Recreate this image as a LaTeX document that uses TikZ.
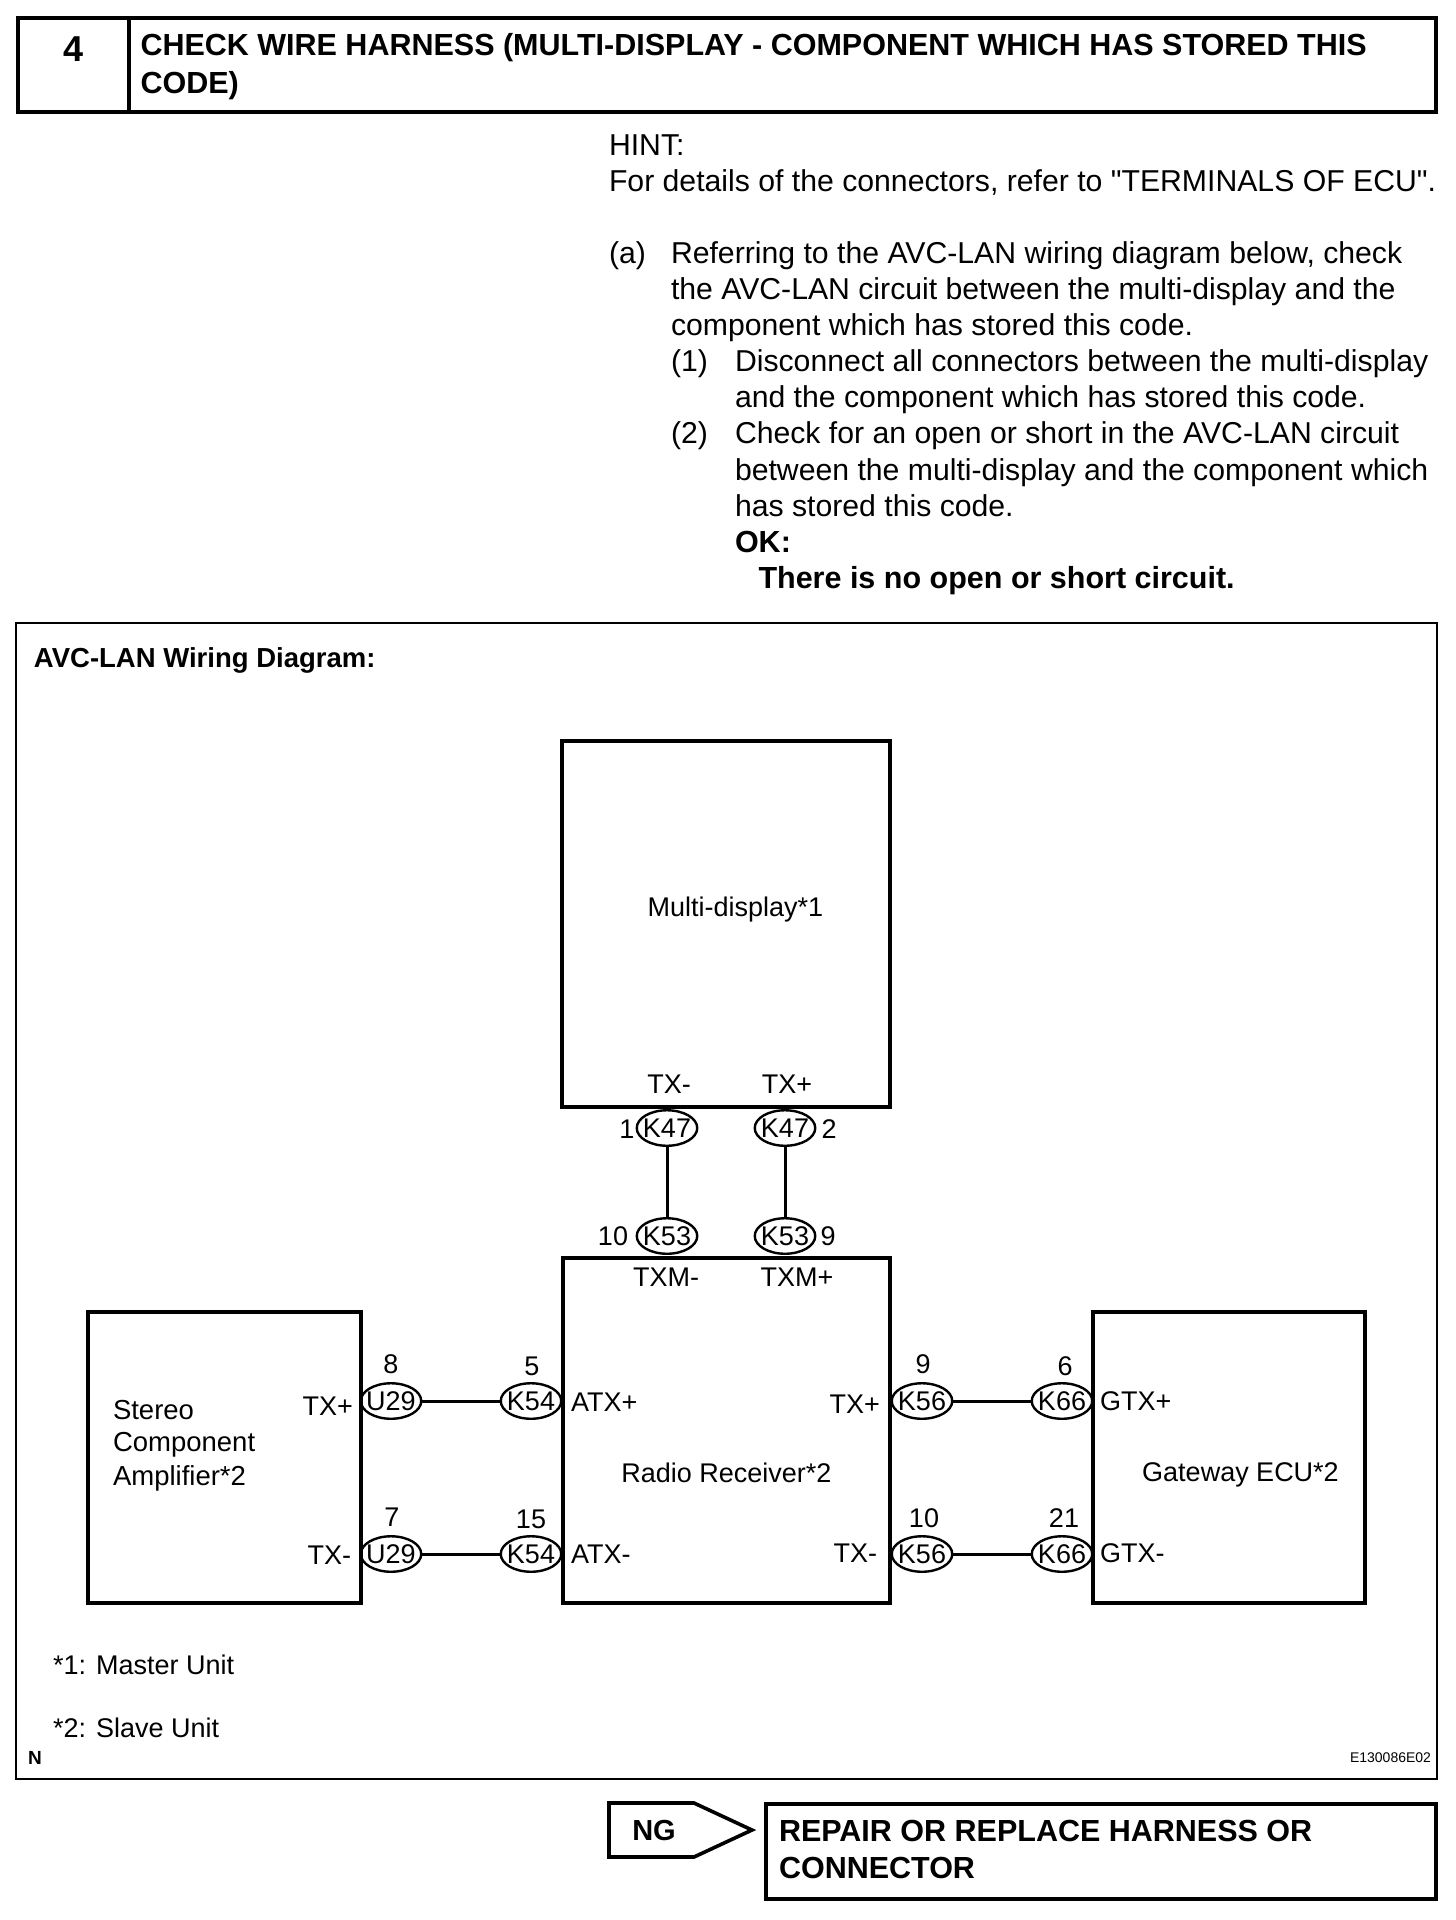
\documentclass[tikz,border=0pt]{standalone}
\usepackage{fontspec}
\setmainfont[Ligatures=TeXOff]{Liberation Sans}
\usetikzlibrary{shapes.geometric}
\newcommand{\cnx}[1]{\makebox[0pt]{#1}}
\tikzset{
  x=1pt,y=-1pt,
  bodytext/.style={anchor=base west,inner sep=0pt,outer sep=0pt,font=\fontsize{30.2}{34}\selectfont},
  boldtext/.style={bodytext,font=\fontsize{30.5}{34}\selectfont\bfseries},
  headtext/.style={bodytext,font=\fontsize{30.5}{36}\selectfont\bfseries},
  lab/.style={anchor=center,inner sep=0pt,outer sep=0pt,font=\fontsize{27}{32}\selectfont},
  labl/.style={lab,anchor=west},
  labr/.style={lab,anchor=east},
  conn/.style={ellipse,draw=black,line width=2.4pt,minimum width=60.5pt,minimum height=35.5pt,inner sep=0pt,outer sep=0pt,font=\fontsize{27}{32}\selectfont},
  unitbox/.style={rectangle,draw=black,line width=3.8pt,anchor=north west,inner sep=0pt,outer sep=0pt},
  wire/.style={draw=black,line width=3pt},
  framebox/.style={rectangle,draw=black,line width=2.6pt,anchor=north west,inner sep=0pt,outer sep=0pt},
  headbox/.style={rectangle,draw=black,line width=4.2pt,anchor=north west,inner sep=0pt,outer sep=0pt}
}
\begin{document}
\begin{tikzpicture}
\useasboundingbox (0,0) rectangle (1456,1920);
\fill[white] (0,0) rectangle (1456,1920);
% header
\node[headbox,minimum width=1418pt,minimum height=94pt] (hdr) at (18,18) {};
\coordinate (divt) at (129,18); \coordinate (divb) at (129,112);
\draw[line width=3.2pt] (divt) -- (divb);
\node[headtext,anchor=center,font=\fontsize{36}{40}\selectfont\bfseries] (num) at (74,49) {4};
\node[headtext] (h1) at (140.5,55) {CHECK WIRE HARNESS (MULTI-DISPLAY - COMPONENT WHICH HAS STORED THIS};
\node[headtext] (h2) at (140.5,93) {CODE)};
% instructions
\node[bodytext] (t1) at (609,155) {HINT:};
\node[bodytext] (t2) at (609,191) {For details of the connectors, refer to "TERMINALS OF ECU".};
\node[bodytext] (t3) at (609,263) {(a)};
\node[bodytext] (t4) at (671,263) {Referring to the AVC-LAN wiring diagram below, check};
\node[bodytext] (t5) at (671,299) {the AVC-LAN circuit between the multi-display and the};
\node[bodytext] (t6) at (671,335) {component which has stored this code.};
\node[bodytext] (t7) at (671,371) {(1)};
\node[bodytext] (t8) at (735,371) {Disconnect all connectors between the multi-display};
\node[bodytext] (t9) at (735,407) {and the component which has stored this code.};
\node[bodytext] (t10) at (671,443) {(2)};
\node[bodytext] (t11) at (735,443) {Check for an open or short in the AVC-LAN circuit};
\node[bodytext] (t12) at (735,480) {between the multi-display and the component which};
\node[bodytext] (t13) at (735,516) {has stored this code.};
\node[boldtext] (t14) at (735,552) {OK:};
\node[boldtext] (t15) at (758.5,588) {There is no open or short circuit.};
% frame
\node[framebox,minimum width=1421pt,minimum height=1156pt] (frame) at (16,623) {};
\node[boldtext,font=\fontsize{27.5}{32}\selectfont\bfseries] (title) at (34,667) {AVC-LAN Wiring Diagram:};
% units
\node[unitbox,minimum width=328pt,minimum height=366pt] (multi) at (562,741) {};
\node[unitbox,minimum width=327pt,minimum height=345pt] (radio) at (563,1258) {};
\node[unitbox,minimum width=273pt,minimum height=291pt] (amp) at (88,1312) {};
\node[unitbox,minimum width=272pt,minimum height=291pt] (gw) at (1093,1312) {};
\node[lab] (multit) at (735.5,910) {Multi-display*1};
\node[lab] (radiot) at (726.5,1473) {Radio Receiver*2};
\node[lab] (gwt) at (1240.5,1475) {Gateway ECU*2};
\node[labl,font=\fontsize{27.5}{32}\selectfont] (ampa) at (113,1410) {Stereo};
\node[labl,font=\fontsize{27.5}{32}\selectfont] (ampb) at (113,1445) {Component};
\node[labl,font=\fontsize{27.5}{32}\selectfont] (ampc) at (113,1478) {Amplifier*2};
% connectors
\node[conn] (k47a) at (667,1128) {\cnx{K47}};
\node[conn] (k47b) at (785,1128) {\cnx{K47}};
\node[conn] (k53a) at (667,1236) {\cnx{K53}};
\node[conn] (k53b) at (785,1236) {\cnx{K53}};
\node[conn] (u29a) at (391,1401) {\cnx{U29}};
\node[conn] (k54a) at (531,1401) {\cnx{K54}};
\node[conn] (u29b) at (391,1554) {\cnx{U29}};
\node[conn] (k54b) at (531,1554) {\cnx{K54}};
\node[conn] (k56a) at (922,1401) {\cnx{K56}};
\node[conn] (k66a) at (1062,1401) {\cnx{K66}};
\node[conn] (k56b) at (922,1554) {\cnx{K56}};
\node[conn] (k66b) at (1062,1554) {\cnx{K66}};
\draw[wire] (k47a) -- (k53a);
\draw[wire] (k47b) -- (k53b);
\draw[wire] (u29a) -- (k54a);
\draw[wire] (u29b) -- (k54b);
\draw[wire] (k56a) -- (k66a);
\draw[wire] (k56b) -- (k66b);
% pin labels
\node[lab] (l1) at (669,1084) {TX-};
\node[lab] (l2) at (787,1084) {TX+};
\node[lab] (l3) at (627,1129) {1};
\node[lab] (l4) at (829,1129) {2};
\node[lab] (l5) at (613,1236) {10};
\node[lab] (l6) at (828,1236) {9};
\node[lab] (l7) at (666,1277) {TXM-};
\node[lab] (l8) at (797,1277) {TXM+};
\node[labr] (l9) at (353,1406) {TX+};
\node[labr] (l10) at (351,1555) {TX-};
\node[lab] (l11) at (391,1364) {8};
\node[lab] (l12) at (532,1366) {5};
\node[lab] (l13) at (392,1517) {7};
\node[lab] (l14) at (531,1519) {15};
\node[labl] (l15) at (571,1402) {ATX+};
\node[labl] (l16) at (571,1554) {ATX-};
\node[labr] (l17) at (880,1404) {TX+};
\node[labr] (l18) at (877,1553) {TX-};
\node[lab] (l19) at (923,1364) {9};
\node[lab] (l20) at (1065,1366) {6};
\node[lab] (l21) at (924,1518) {10};
\node[lab] (l22) at (1064,1518) {21};
\node[labl] (l23) at (1100,1401) {GTX+};
\node[labl] (l24) at (1100,1553) {GTX-};
% notes
\node[labl] (n1) at (53,1665) {*1: Master Unit};
\node[labl] (n2) at (53,1728) {*2: Slave Unit};
\node[lab,font=\fontsize{19}{20}\selectfont\bfseries] (nn) at (35,1758) {N};
\node[labr,font=\fontsize{14}{16}\selectfont] (code) at (1431,1758) {E130086E02};
% result
\coordinate (nga) at (609,1803); \coordinate (ngb) at (694,1803); \coordinate (ngc) at (752,1830);
\coordinate (ngd) at (694,1857); \coordinate (nge) at (609,1857);
\draw[line width=3.6pt,line join=miter] (nga) -- (ngb) -- (ngc) -- (ngd) -- (nge) -- cycle;
\node[headtext,anchor=center,font=\fontsize{29}{34}\selectfont\bfseries] (ng) at (654,1830) {NG};
\node[headbox,line width=3.6pt,minimum width=670pt,minimum height=95pt] (res) at (766,1804) {};
\node[headtext] (r1) at (779,1841) {REPAIR OR REPLACE HARNESS OR};
\node[headtext] (r2) at (779,1878) {CONNECTOR};
\end{tikzpicture}
\end{document}
